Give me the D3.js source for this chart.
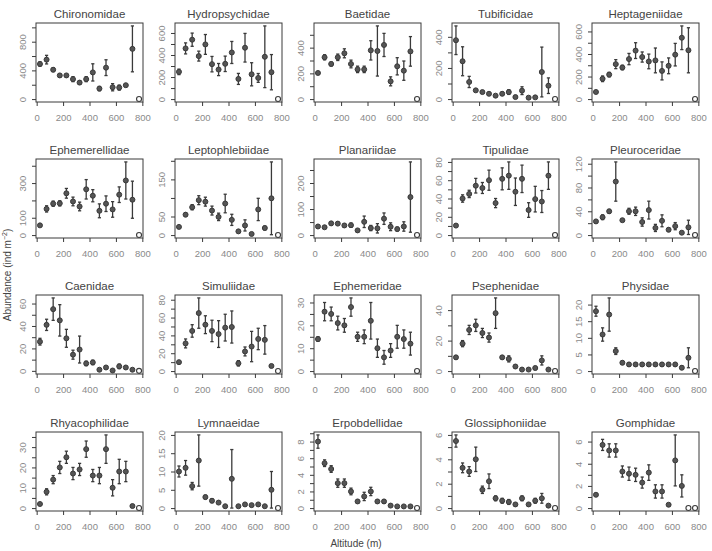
<!DOCTYPE html>
<html><head><meta charset="utf-8">
<script src="https://cdn.jsdelivr.net/npm/d3@7"></script>
<style>
body{margin:0;background:#fff;}
svg{display:block;font-family:"Liberation Sans",Arial,Helvetica,sans-serif;}
</style></head>
<body>
<svg id="chart" width="712" height="551"></svg>
<script>
const altitudes = [25,75,125,175,225,275,325,375,425,475,525,575,625,675,725,775];
const xTicks = [0,200,400,600,800];
const families = ["Chironomidae","Hydropsychidae","Baetidae","Tubificidae","Heptageniidae",
  "Ephemerellidae","Leptophlebiidae","Planariidae","Tipulidae","Pleuroceridae",
  "Caenidae","Simuliidae","Ephemeridae","Psephenidae","Physidae",
  "Rhyacophilidae","Lymnaeidae","Erpobdellidae","Glossiphoniidae","Gomphidae"];
const meanValues = [
  [489,550,409,330,330,278,230,278,372,146,438,165,160,193,700,0],
  [247,460,539,390,496,317,268,320,423,183,466,225,192,384,244,0],
  [203,325,273,325,356,273,231,231,379,374,421,138,255,221,371,0],
  [378,243,110,56,45,34,22,34,45,13,54,9,11,174,86,0],
  [63,180,217,310,280,355,430,373,334,343,250,295,394,544,433,0],
  [56,151,181,183,241,194,165,264,227,140,181,148,233,315,204,0],
  [22,55,75,94,90,66,49,85,41,10,26,3,69,19,99,0],
  [33,30,45,44,37,38,18,51,27,26,63,32,23,33,146,0],
  [10.4,40,45,54,51.5,60,35,61.5,65,47.4,61.5,27.4,39.3,36.7,65,0],
  [23,30,40,90,25,40,40,22,42,12,24,9,15,4,13,0],
  [26,41,55,45,29,14.4,19,6.6,7.5,1,3,0.3,4,3,1,0],
  [10,31,45,65,52,45,41.5,48.7,49.4,8.7,22,27.5,36,35,5.7,0],
  [14,26,25,21,20,28,15,15,22,10,6,9,15,14,12,0],
  [9,18,27,30,25,22,38,9,8,3,1,1,2,7,1,0],
  [18,11,17,6,2.5,2,2,2,2,2,2,2,2,1,4,0],
  [2,8,14,20,25,17,19,29,16,16,29,10,18,18,1,0],
  [10,11,6,13,3,2,1.5,0.5,8,0.5,1,0.8,1,0.5,5,0],
  [8,5.4,4.7,3,3,2,0.8,1.4,2,0.8,0.8,0.3,0.2,0.2,0.2,0],
  [5.5,3.3,3,4,1.5,2.2,0.8,0.6,0.5,0.3,0.8,0.3,0.6,0.8,0.2,0],
  [1.2,5.7,5.2,5.2,3.3,3.1,3,2.3,3.2,1.5,1.5,0.3,4.3,2,0,0]
];
const errValues = [
  [30,60,25,20,15,35,25,35,120,30,110,50,35,15,320,0],
  [25,50,60,45,90,70,55,70,100,50,130,105,40,280,160,0],
  [10,20,15,25,35,30,25,25,75,195,90,35,67,75,115,0],
  [92,93,36,8,5,6,5,10,15,5,25,3,3,160,50,0],
  [8,25,20,40,20,50,70,45,65,110,80,70,100,105,200,0],
  [5,18,15,15,28,25,25,56,35,40,45,45,45,107,107,0],
  [3,5,7,12,12,12,10,25,15,4,15,1,30,5,98,0],
  [5,4,6,5,6,8,4,22,10,18,22,15,7,18,135,0],
  [1,4,4,8,6,11,5,12,15,15,15,8,14,12,15,0],
  [2,4,3,33,2,5,7,7,15,6,10,3,6,1,12,0],
  [3,5,10,14,8,4,12,2,2,0.5,1,0.5,2,1,0.5,0],
  [1.5,5,7,17,10,12,15,15,18,3,5,17,12,16,1,0],
  [1,4,3,3,3,4,2,3,8,4,3,3,5,4,5,0],
  [1,2,3,4,3,3,10,1,2,1,0.5,0.5,1,3,0.5,0],
  [1.5,2,5,1,0.5,0.5,0.5,0.5,0.5,0.5,0.5,0.5,0.5,0.5,3,0],
  [0.5,1.5,2,3,3,3,3,4,3,4,7,4,6,5,0.5,0],
  [1.5,2,1,7,0.5,0.5,0.3,0.2,8,0.2,0.3,0.2,0.3,0.2,5,0],
  [0.8,0.4,0.4,0.5,0.5,0.4,0.2,0.5,0.5,0.2,0.2,0.1,0.1,0.1,0.1,0],
  [0.5,0.4,0.4,1,0.3,0.6,0.2,0.2,0.2,0.1,0.2,0.1,0.2,0.4,0.1,0],
  [0.1,0.5,0.6,0.6,0.5,0.6,0.6,0.5,0.7,0.6,0.6,0.1,2.3,1,0,0]
];
const yTickSteps = [200,100,100,100,100,100,50,50,10,20,10,10,5,10,5,5,5,1,1,1];
const yTickLabels = [
  [0,400,800],[0,200,400,600],[0,200,400],[0,200,400],[0,200,400,600],
  [0,100,300],[0,50,150],[0,100,200],[0,20,40,60,80],[0,40,80,120],
  [0,20,40,60],[0,20,40,60,80],[0,10,20,30],[0,20,40],[0,5,10,15,20,25],
  [0,10,20,30,40],[0,5,10,15,20],[0,2,4,6,8],[0,2,4,6],[0,2,4,6]
];

const colLeft = [36,175,314,452,592];
const rowTop = [23,159,295,432];
const W = 107, H = 79;
const dark = "#3a3a3a", tickCol = "#8a8a8a";

const svg = d3.select("#chart");

families.forEach((name, i) => {
  const col = i % 5, row = Math.floor(i / 5);
  const g = svg.append("g").attr("transform", `translate(${colLeft[col]},${rowTop[row]})`);
  const m = meanValues[i], e = errValues[i];
  const lo = Math.min(0, d3.min(m.map((v, k) => v - e[k])));
  const hi = d3.max(m.map((v, k) => v + e[k]));
  const pad = 0.04 * (hi - lo);
  const x = d3.scaleLinear().domain([-5, 805]).range([0, W]);
  const y = d3.scaleLinear().domain([lo - pad, hi + pad]).range([H, 0]);

  // x axis
  const xa = g.append("g").attr("transform", `translate(0,${H})`)
    .call(d3.axisBottom(x).tickValues(xTicks).tickSize(4).tickSizeOuter(0).tickPadding(8));
  xa.select(".domain").remove();
  xa.selectAll("line").attr("stroke", dark);
  xa.selectAll("text").attr("fill", tickCol).style("font-size", "9.5px")
    .style("font-family", "Liberation Sans, Arial, sans-serif");

  // y axis
  const tv = d3.range(0, hi + pad + 1e-9, yTickSteps[i]);
  const labs = yTickLabels[i];
  const ya = g.append("g")
    .call(d3.axisLeft(y).tickValues(tv).tickSize(4).tickSizeOuter(0)
      .tickFormat(d => labs.some(l => Math.abs(l - d) < 1e-9) ? d : ""));
  ya.select(".domain").remove();
  ya.selectAll("line").attr("stroke", dark);
  ya.selectAll("text").attr("fill", tickCol).style("font-size", "9.5px")
    .style("font-family", "Liberation Sans, Arial, sans-serif")
    .attr("transform", "rotate(-90)").attr("x", 0).attr("y", -10.5).attr("dy", 0)
    .style("text-anchor", "middle");

  // box
  g.append("rect").attr("x", 0).attr("y", 0).attr("width", W).attr("height", H)
    .attr("fill", "none").attr("stroke", dark).attr("stroke-width", 1);

  // title
  g.append("text").attr("x", W / 2).attr("y", -5).attr("text-anchor", "middle")
    .attr("fill", "#444").style("font-size", "11.5px").text(name);

  const pts = altitudes.map((a, k) => ({a, v: m[k], e: e[k]}));
  const eb = pts.filter(d => d.e > 0);
  g.selectAll(".eb").data(eb).enter().append("line")
    .attr("x1", d => x(d.a)).attr("x2", d => x(d.a))
    .attr("y1", d => y(d.v - d.e)).attr("y2", d => y(d.v + d.e))
    .attr("stroke", dark).attr("stroke-width", 1.3);
  ["lo", "hi"].forEach(s => {
    g.selectAll(".cap" + s).data(eb).enter().append("line")
      .attr("x1", d => x(d.a) - 1.6).attr("x2", d => x(d.a) + 1.6)
      .attr("y1", d => y(s === "lo" ? d.v - d.e : d.v + d.e))
      .attr("y2", d => y(s === "lo" ? d.v - d.e : d.v + d.e))
      .attr("stroke", dark).attr("stroke-width", 1.3);
  });
  g.selectAll(".pt").data(pts).enter().append("circle")
    .attr("cx", d => x(d.a)).attr("cy", d => y(d.v)).attr("r", 2.5)
    .attr("fill", d => d.v === 0 ? "#fff" : "#555")
    .attr("stroke", dark).attr("stroke-width", d => d.v === 0 ? 1.1 : 1);
});

svg.append("text").attr("transform", "translate(11,275) rotate(-90)")
  .attr("text-anchor", "middle").attr("fill", "#444").style("font-size", "10px")
  .html('Abundance (ind m<tspan dy="-4" style="font-size:7px">−2</tspan><tspan dy="4">)</tspan>');
svg.append("text").attr("x", 356).attr("y", 547).attr("text-anchor", "middle")
  .attr("fill", "#444").style("font-size", "10px").text("Altitude (m)");
</script>
</body></html>
